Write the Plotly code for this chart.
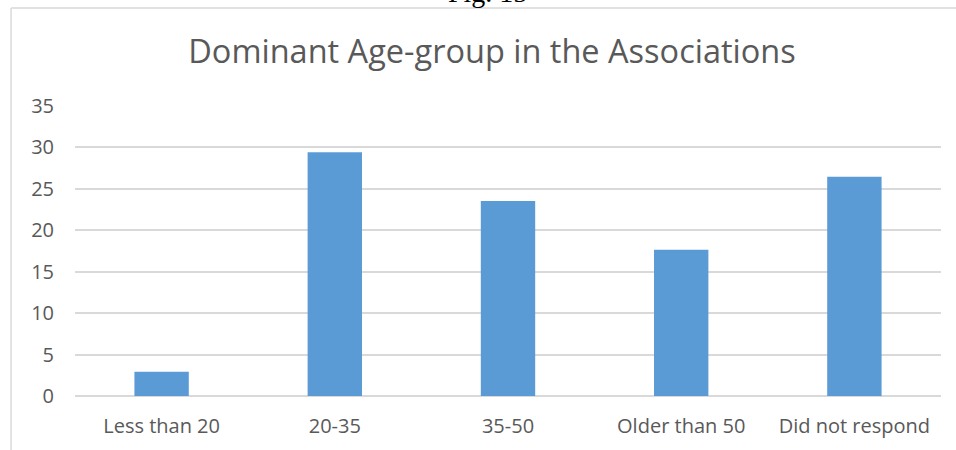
import plotly.graph_objects as go

categories = ["Less than 20", "20-35", "35-50", "Older than 50", "Did not respond"]
values = [2.94, 29.41, 23.53, 17.65, 26.47]
y_ticks = [0, 5, 10, 15, 20, 25, 30, 35]

W, H = 956, 450
L, R, T, B = 75, 14.5, 106, 54
pw = W - L - R
ph = H - T - B

def px_x(x):
    return (x - L) / pw

def px_y(y):
    return (H - B - y) / ph

fig = go.Figure(go.Bar(
    x=categories, y=values,
    marker=dict(color="#5b9bd5", line=dict(width=0)),
    hoverinfo="x+y",
))

font_fam = "Open Sans, Noto Sans, sans-serif"
fig.update_layout(
    width=W, height=H,
    margin=dict(l=L, r=R, t=T, b=B, pad=0),
    paper_bgcolor="white", plot_bgcolor="white",
    bargap=0.686,
    showlegend=False,
    font=dict(family=font_fam, color="#595959"),
    title=dict(
        text="Dominant Age-group in the Associations",
        x=492 / W, xanchor="center", xref="container",
        y=1 - 52 / H, yanchor="middle", yref="container",
        font=dict(size=32.5, color="#595959", family=font_fam),
    ),
    xaxis=dict(
        showgrid=False, showline=False, zeroline=False,
        ticks="", tickfont=dict(size=20, color="#595959"),
        ticklabelstandoff=16,
    ),
    yaxis=dict(
        range=[0, 35], tickvals=y_ticks,
        showgrid=True, gridcolor="#d9d9d9", gridwidth=1.5,
        zeroline=True, zerolinecolor="#d9d9d9", zerolinewidth=1.5,
        showline=False, ticks="",
        tickfont=dict(size=20, color="#595959"),
        ticklabelstandoff=20,
    ),
    shapes=[
        dict(type="line", xref="paper", yref="paper",
             x0=px_x(11), x1=px_x(11), y0=px_y(460), y1=px_y(8),
             line=dict(color="#d9d9d9", width=1.5)),
        dict(type="line", xref="paper", yref="paper",
             x0=px_x(11), x1=px_x(970), y0=px_y(8), y1=px_y(8),
             line=dict(color="#d9d9d9", width=1.5)),
    ],
    annotations=[
        dict(text="Fig. 15", xref="paper", yref="paper",
             x=px_x(488), y=px_y(10), xanchor="center", yanchor="bottom",
             showarrow=False,
             font=dict(family="Liberation Serif, Times New Roman, serif",
                       size=28, color="black")),
    ],
)

fig.write_html("out.html")
